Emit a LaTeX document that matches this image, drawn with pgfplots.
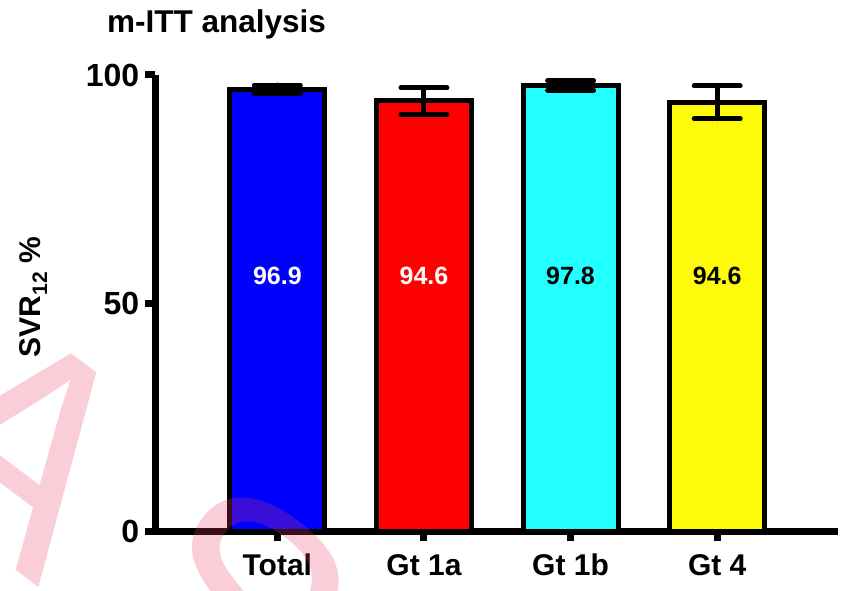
\documentclass[border=0pt]{standalone}
\usepackage{fontspec}
\setmainfont{Liberation Sans}
\usepackage{pgfplots}
\pgfplotsset{compat=1.18}
\definecolor{cblue}{RGB}{0,0,255}
\definecolor{cred}{RGB}{255,0,0}
\definecolor{ccyan}{RGB}{34,255,255}
\definecolor{cyellow}{RGB}{255,250,10}
\definecolor{wpink}{RGB}{230,60,100}
\begin{document}
\begin{tikzpicture}
\useasboundingbox (-155.5pt,-59pt) rectangle (685.5pt,531pt);
\begin{axis}[
  at={(0,0)}, anchor=south west,
  scale only axis, width=682.5pt, height=456pt,
  xmin=-0.831, xmax=3.824, ymin=0, ymax=100,
  axis lines=left,
  axis line style={line width=7pt,-},
  clip=false,
  ytick={0,50,100},
  xtick={0,1,2,3},
  xticklabels={Total,Gt 1a,Gt 1b,Gt 4},
  tick align=outside,
  major tick length=10pt,
  major tick style={line width=7pt,black},
  /pgf/number format/assume math mode=true,
  yticklabel style={font=\fontsize{32}{32}\selectfont\bfseries, inner sep=0pt, xshift=-6pt},
  xticklabel style={font=\fontsize{30}{30}\selectfont\bfseries, inner sep=0pt, yshift=-13pt},
  every error bar/.style={line width=5pt, black, line cap=round},
]
\addplot[ybar, bar width=95pt, fill=cblue, draw=black, line width=5pt,
  error bars/.cd, y dir=both, y explicit, error mark=|,
  error bar style={line width=5pt, black, line cap=round},
  error mark options={line width=5pt, mark size=23pt, black, line cap=round}]
  coordinates {(0,96.9) +- (0,0.9)};
\addplot[ybar, bar width=95pt, fill=cred, draw=black, line width=5pt,
  error bars/.cd, y dir=both, y explicit, error mark=|,
  error bar style={line width=5pt, black, line cap=round},
  error mark options={line width=5pt, mark size=23pt, black, line cap=round}]
  coordinates {(1,94.3) +- (0,2.9)};
\addplot[ybar, bar width=95pt, fill=ccyan, draw=black, line width=5pt,
  error bars/.cd, y dir=both, y explicit, error mark=|,
  error bar style={line width=5pt, black, line cap=round},
  error mark options={line width=5pt, mark size=23pt, black, line cap=round}]
  coordinates {(2,97.7) +- (0,1.0)};
\addplot[ybar, bar width=95pt, fill=cyellow, draw=black, line width=5pt,
  error bars/.cd, y dir=both, y explicit, error mark=|,
  error bar style={line width=5pt, black, line cap=round},
  error mark options={line width=5pt, mark size=23pt, black, line cap=round}]
  coordinates {(3,94.0) +- (0,3.6)};
\addplot[only marks, mark=none, nodes near coords, point meta=explicit symbolic,
  nodes near coords style={white, anchor=center, font=\fontsize{25}{25}\selectfont\bfseries}]
  coordinates {(0,56)[96.9] (1,56)[94.6]};
\addplot[only marks, mark=none, nodes near coords, point meta=explicit symbolic,
  nodes near coords style={black, anchor=center, font=\fontsize{25}{25}\selectfont\bfseries}]
  coordinates {(2,56)[97.8] (3,56)[94.6]};
\end{axis}
\node[anchor=base west, font=\fontsize{31.5}{31.5}\selectfont\bfseries, inner sep=0pt] at (-48.5pt,498pt) {m-ITT analysis};
\node[rotate=90, font=\fontsize{30}{30}\selectfont\bfseries, inner sep=0pt] at (-122pt,234pt) {SVR\textsubscript{12} \%};
\node[rotate=-37, anchor=base west, text=wpink, opacity=0.25, inner sep=0pt, font=\fontsize{300}{300}\selectfont] at (-276pt,64pt) {A};
\node[rotate=-37, anchor=base west, text=wpink, opacity=0.25, inner sep=0pt, font=\fontsize{300}{300}\selectfont] at (-64pt,-96pt) {S};
\end{tikzpicture}
\end{document}
